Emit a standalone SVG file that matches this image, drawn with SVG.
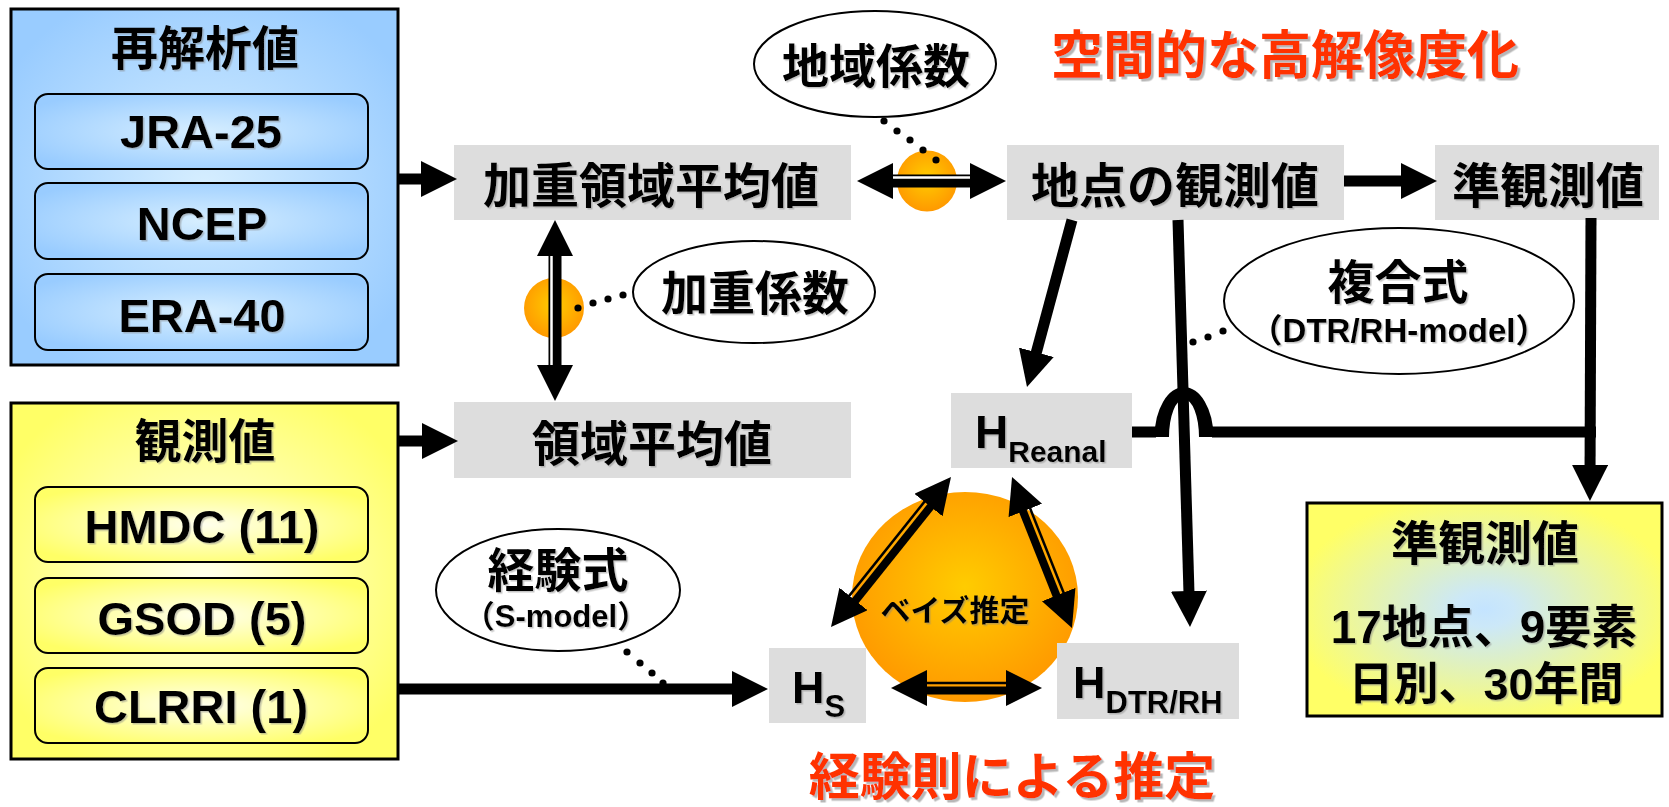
<svg xmlns="http://www.w3.org/2000/svg" width="1669" height="807" viewBox="0 0 1669 807">
<defs>
<style>
.t{font-family:"Liberation Sans","Noto Sans CJK JP",sans-serif;font-weight:bold;fill:#000;text-anchor:middle;filter:url(#sh)}
.ts{text-anchor:start}
.red{fill:#ff3300;filter:url(#shr)}
.gbox{fill:#dddddd}
.ell{fill:#fff;stroke:#000;stroke-width:2}
.outer{stroke:#000;stroke-width:3}
.inner{stroke:#000;stroke-width:2}
.ln{stroke:#000;stroke-width:11;fill:none}
.dbl{stroke:#000;stroke-width:13;fill:none}
.gap{stroke:#fff;stroke-width:2.5;fill:none}
.thin{stroke:#000;stroke-width:2.5;fill:none}
.thick{stroke:#000;stroke-width:8;fill:none}
.axis{stroke:none;fill:none}
.arr{marker-end:url(#ah)}
.arr2{marker-start:url(#ah);marker-end:url(#ah)}
.dot{fill:#000}
.ball{fill:url(#gBall)}
</style>
<marker id="ah" viewBox="0 0 36 36" refX="16" refY="18" markerWidth="36" markerHeight="36" markerUnits="userSpaceOnUse" orient="auto-start-reverse"><path d="M0,0 L36,18 L0,36 Z" fill="#000"/></marker>
<radialGradient id="gBlue" cx="50%" cy="50%" r="60%"><stop offset="0" stop-color="#d6eeff"/><stop offset="1" stop-color="#99ccff"/></radialGradient>
<radialGradient id="gYellow" cx="50%" cy="50%" r="60%"><stop offset="0" stop-color="#ffffee"/><stop offset="1" stop-color="#ffff66"/></radialGradient>
<radialGradient id="gMix" cx="50%" cy="50%" r="55%"><stop offset="0" stop-color="#c4e4ff"/><stop offset="0.15" stop-color="#cce8f8"/><stop offset="1" stop-color="#ffff66"/></radialGradient>
<radialGradient id="gBall" cx="50%" cy="45%" r="55%"><stop offset="0" stop-color="#ffcc00"/><stop offset="1" stop-color="#ff9900"/></radialGradient>
<filter id="sh" x="-5%" y="-10%" width="115%" height="130%"><feDropShadow dx="1.5" dy="1.5" stdDeviation="0.5" flood-color="#808080" flood-opacity="0.45"/></filter>
<filter id="shr" x="-5%" y="-10%" width="115%" height="130%"><feDropShadow dx="2.5" dy="2.5" stdDeviation="0.6" flood-color="#999999" flood-opacity="0.7"/></filter>
</defs>
<rect x="0" y="0" width="1669" height="807" fill="#fff"/>

<g id="reanalysis">
<rect class="outer" x="11" y="9" width="387" height="356" fill="url(#gBlue)"/>
<text class="t" x="205" y="65" font-size="47">再解析値</text>
<g id="jra25"><rect class="inner" x="35" y="94" width="333" height="75" rx="13" fill="url(#gBlue)"/><text class="t" x="201" y="148" font-size="47">JRA-25</text></g>
<g id="ncep"><rect class="inner" x="35" y="183" width="333" height="76" rx="13" fill="url(#gBlue)"/><text class="t" x="202" y="240" font-size="47">NCEP</text></g>
<g id="era40"><rect class="inner" x="35" y="274" width="333" height="76" rx="13" fill="url(#gBlue)"/><text class="t" x="202" y="332" font-size="47">ERA-40</text></g>
</g>

<g id="observations">
<rect class="outer" x="11" y="403" width="387" height="356" fill="url(#gYellow)"/>
<text class="t" x="205" y="458" font-size="47">観測値</text>
<g id="hmdc"><rect class="inner" x="35" y="487" width="333" height="75" rx="13" fill="url(#gYellow)"/><text class="t" x="202" y="543" font-size="47">HMDC (11)</text></g>
<g id="gsod"><rect class="inner" x="35" y="578" width="333" height="75" rx="13" fill="url(#gYellow)"/><text class="t" x="202" y="635" font-size="47">GSOD (5)</text></g>
<g id="clrri"><rect class="inner" x="35" y="668" width="333" height="75" rx="13" fill="url(#gYellow)"/><text class="t" x="201" y="723" font-size="47">CLRRI (1)</text></g>
</g>

<g id="ball-regional"><ellipse class="ball" cx="927" cy="181" rx="30" ry="30.5"/></g>
<g id="ball-weight"><ellipse class="ball" cx="554" cy="308" rx="30" ry="30"/></g>
<g id="bayes"><ellipse class="ball" cx="965" cy="597" rx="113" ry="105"/><text class="t" x="955" y="621" font-size="30">ベイズ推定</text></g>

<g id="weighted-avg"><rect class="gbox" x="454" y="145" width="397" height="75"/><text class="t" x="651" y="203" font-size="48">加重領域平均値</text></g>
<g id="area-avg"><rect class="gbox" x="454" y="402" width="397" height="76"/><text class="t" x="652" y="461" font-size="48">領域平均値</text></g>
<g id="local-obs"><rect class="gbox" x="1007" y="145" width="337" height="75"/><text class="t" x="1175" y="203" font-size="48">地点の観測値</text></g>
<g id="quasi-obs"><rect class="gbox" x="1435" y="145" width="224" height="75"/><text class="t" x="1548" y="203" font-size="48">準観測値</text></g>
<g id="h-reanal"><rect class="gbox" x="951" y="393" width="181" height="75"/><text class="t ts" x="975" y="448" font-size="46">H<tspan font-size="30" dy="14">Reanal</tspan></text></g>
<g id="h-s"><rect class="gbox" x="769" y="648" width="97" height="75"/><text class="t ts" x="792" y="703" font-size="45">H<tspan font-size="31" dy="14">S</tspan></text></g>
<g id="h-dtr"><rect class="gbox" x="1057" y="643" width="182" height="76"/><text class="t ts" x="1073" y="698" font-size="45">H<tspan font-size="31" dy="15">DTR/RH</tspan></text></g>

<g id="result">
<rect class="outer" x="1307" y="503" width="355" height="213" fill="url(#gMix)"/>
<text class="t" x="1485" y="560" font-size="47">準観測値</text>
<text class="t" x="1484" y="643" font-size="46">17地点、9要素</text>
<text class="t" x="1486" y="700" font-size="45">日別、30年間</text>
</g>

<g id="ell-regional"><ellipse class="ell" cx="875" cy="64" rx="121" ry="53"/><text class="t" x="876" y="83" font-size="47">地域係数</text></g>
<g id="ell-weight"><ellipse class="ell" cx="754" cy="292" rx="121" ry="51"/><text class="t" x="755" y="310" font-size="47">加重係数</text></g>
<g id="ell-composite"><ellipse class="ell" cx="1399" cy="301" rx="175" ry="73"/><text class="t" x="1398" y="299" font-size="47">複合式</text><text class="t" x="1399" y="342" font-size="33">（DTR/RH-model）</text></g>
<g id="ell-empirical"><ellipse class="ell" cx="558" cy="590" rx="122" ry="61"/><text class="t" x="558" y="587" font-size="47">経験式</text><text class="t" x="556" y="627" font-size="31">（S-model）</text></g>

<g id="title-spatial"><text class="t red" x="1285" y="74" font-size="52">空間的な高解像度化</text></g>
<g id="title-empirical"><text class="t red" x="1012" y="795" font-size="51">経験則による推定</text></g>

<g id="connectors">
<line class="ln arr" x1="399" y1="179" x2="437" y2="179"/>
<line class="ln arr" x1="399" y1="441" x2="438" y2="441"/>
<line class="ln arr" x1="399" y1="689" x2="748" y2="689"/>
<line class="ln arr" x1="1344" y1="181" x2="1417" y2="181"/>
<line class="ln arr" x1="1072" y1="220" x2="1032.2" y2="367.7"/>
<line class="ln arr" x1="1178" y1="220" x2="1189.4" y2="607"/>
<line class="ln arr" x1="1591" y1="218" x2="1590" y2="481"/>
<path class="ln" d="M1132,432 H1156 M1212,432 H1596"/>
<path d="M1154.5,437 A29.5,50 0 0 1 1213.5,437 L1199,437 A15,38 0 0 0 1169,437 Z" fill="#000"/>
<line class="dbl arr2" x1="877" y1="181" x2="986" y2="181"/>
<line class="gap" x1="893" y1="177.5" x2="970" y2="177.5"/>
<line class="dbl arr2" x1="555" y1="240" x2="555" y2="381"/>
<line class="gap" x1="551.5" y1="256" x2="551.5" y2="365"/>
<line class="axis arr2" x1="843.5" y1="611.4" x2="938.5" y2="492.6"/>
<line class="thin" x1="839.4" y1="608.1" x2="934.4" y2="489.3"/>
<line class="thick" x1="845.5" y1="613" x2="940.5" y2="494.2"/>
<line class="axis arr2" x1="1019.4" y1="495.6" x2="1064.6" y2="609.4"/>
<line class="thin" x1="1024.3" y1="493.7" x2="1069.5" y2="607.5"/>
<line class="thick" x1="1017.1" y1="496.5" x2="1062.3" y2="610.3"/>
<line class="axis arr2" x1="911" y1="688" x2="1022" y2="688"/>
<line class="thin" x1="911" y1="682.9" x2="1022" y2="682.9"/>
<line class="thick" x1="911" y1="690.5" x2="1022" y2="690.5"/>
<g class="dot">
<circle cx="884" cy="121" r="3.6"/><circle cx="897" cy="131" r="3.6"/><circle cx="910" cy="140" r="3.6"/><circle cx="923" cy="150" r="3.6"/><circle cx="936" cy="160" r="3.6"/>
<circle cx="578" cy="308" r="3.6"/><circle cx="593" cy="303" r="3.6"/><circle cx="608" cy="299" r="3.6"/><circle cx="623" cy="295" r="3.6"/>
<circle cx="1193" cy="342" r="3.6"/><circle cx="1208" cy="337" r="3.6"/><circle cx="1223" cy="331" r="3.6"/>
<circle cx="627" cy="652" r="3.6"/><circle cx="640" cy="663" r="3.6"/><circle cx="652" cy="673" r="3.6"/><circle cx="663" cy="683" r="3.6"/>
</g>
</g>
</svg>
